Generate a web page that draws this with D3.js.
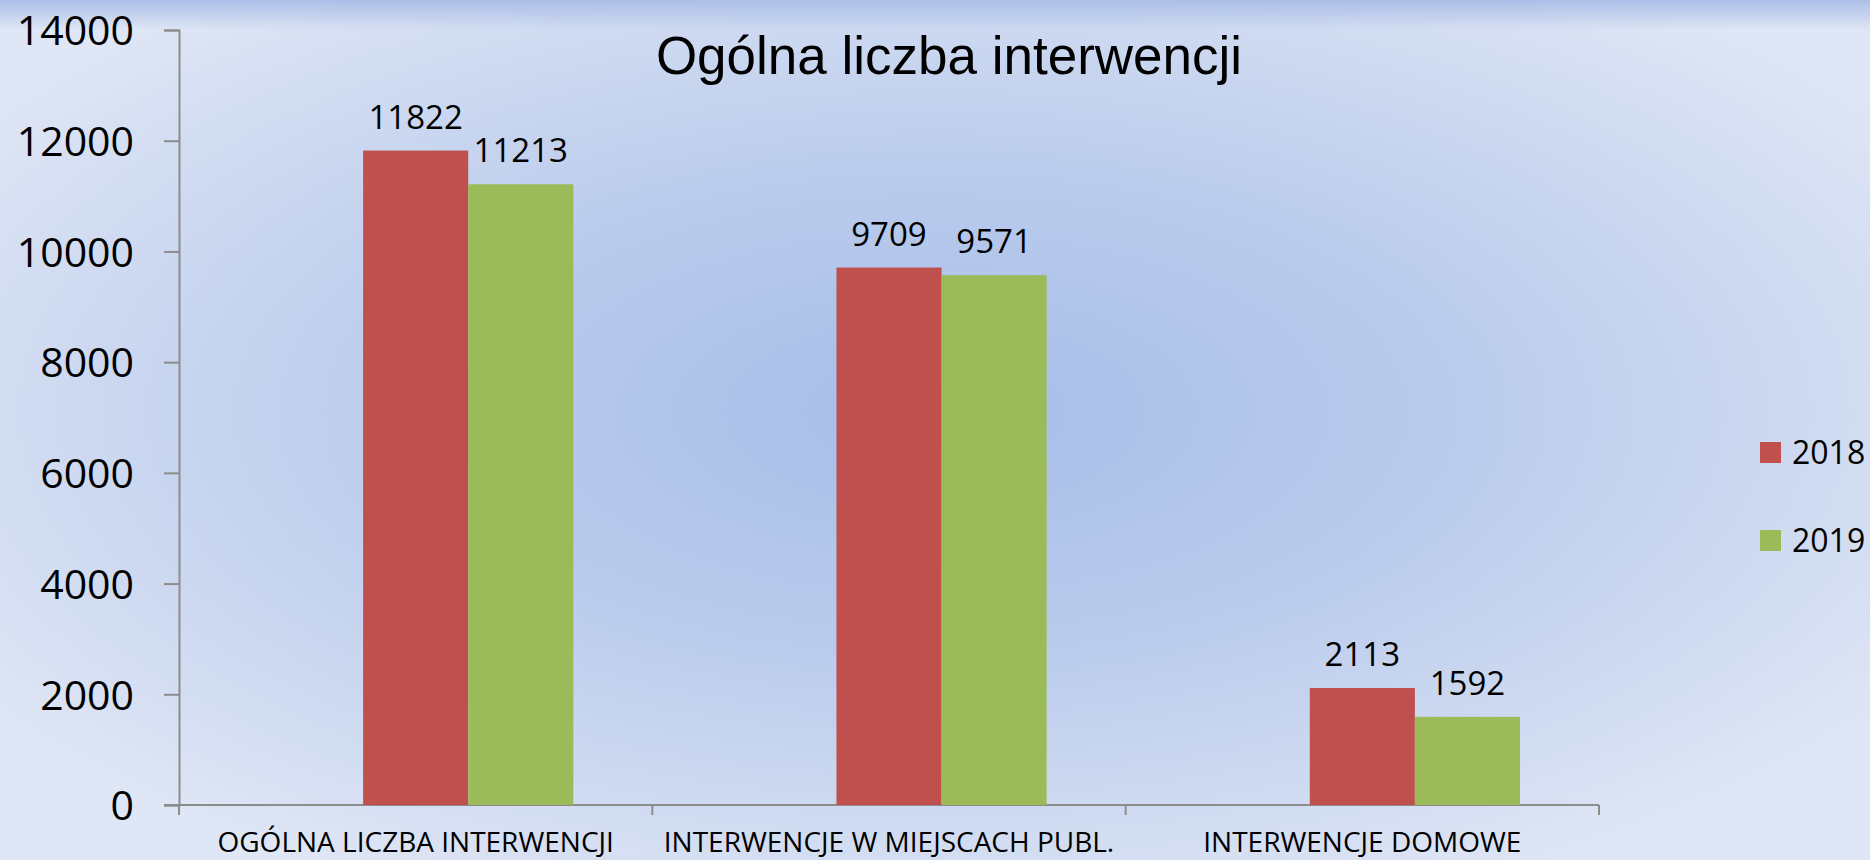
<!DOCTYPE html>
<html>
    <head>
        <meta charset="utf-8" />
        <script src="https://d3js.org/d3.v7.min.js"></script>
        <style>
            body { margin: 0; }
            svg { display: block; }
        </style>
    </head>
    <body>
        <svg class="chart" width="1870" height="860"></svg>
        <script>
            const categories = ['OGÓLNA LICZBA INTERWENCJI', 'INTERWENCJE W MIEJSCACH PUBL.', 'INTERWENCJE DOMOWE']
            const years = ['2018', '2019']
            const values2018 = [11822, 9709, 2113]
            const values2019 = [11213, 9571, 1592]
            const yTicks = [0, 2000, 4000, 6000, 8000, 10000, 12000, 14000]
            const colors = ['#c0504d', '#9bbb59']

            // Excel leaves one empty slot before the two series
            const slots = ['', ...years]
            const rows = categories.map((c, i) => ({ cat: c, vals: [values2018[i], values2019[i]] }))

            const svg = d3.select('svg.chart')
            const defs = svg.append('defs')

            const bg = defs.append('radialGradient')
                .attr('id', 'bg')
                .attr('cx', '50%').attr('cy', '48%').attr('r', '62%')
            bg.append('stop').attr('offset', '0%').attr('stop-color', '#a7bde8')
            bg.append('stop').attr('offset', '45%').attr('stop-color', '#bacbec')
            bg.append('stop').attr('offset', '100%').attr('stop-color', '#dfe6f5')

            const topBand = defs.append('linearGradient')
                .attr('id', 'topband').attr('x1', 0).attr('y1', 0).attr('x2', 0).attr('y2', 1)
            topBand.append('stop').attr('offset', '0%').attr('stop-color', '#a6bbe6').attr('stop-opacity', 0.9)
            topBand.append('stop').attr('offset', '100%').attr('stop-color', '#a6bbe6').attr('stop-opacity', 0)

            svg.append('rect').attr('width', 1870).attr('height', 860).attr('fill', 'url(#bg)')
            svg.append('rect').attr('width', 1870).attr('height', 30).attr('fill', 'url(#topband)')

            const x0 = d3.scaleBand().domain(categories).range([179, 1599])
            const x1 = d3.scaleBand().domain(slots).range([0, x0.bandwidth()])
                .paddingInner(0).paddingOuter(0.752)
            const y = d3.scaleLinear().domain([0, 14000]).range([805, 30])

            // y axis
            const yAxis = svg.append('g')
                .attr('transform', 'translate(179,0)')
                .call(d3.axisLeft(y).tickValues(yTicks).tickSize(15).tickPadding(30).tickFormat(d3.format('d')))
            yAxis.select('.domain').attr('stroke', '#8c8c8c').attr('stroke-width', 2)
            yAxis.selectAll('.tick line').attr('stroke', '#8c8c8c').attr('stroke-width', 2)
            yAxis.selectAll('.tick text')
                .style('font-family', '"Open Sans", sans-serif')
                .style('font-size', '41px')
                .attr('fill', '#000')
                .attr('dy', '0.36em')

            // x axis
            const xAxis = svg.append('g')
                .attr('transform', 'translate(0,805)')
                .call(d3.axisBottom(x0).tickSize(0).tickPadding(0))
            xAxis.select('.domain').remove()
            xAxis.append('line')
                .attr('x1', 164).attr('x2', 1599).attr('y1', 0).attr('y2', 0)
                .attr('stroke', '#8c8c8c').attr('stroke-width', 2)
            xAxis.selectAll('.sep')
                .data([...categories.map((c) => x0(c)), x0.range()[1]])
                .enter()
                .append('line')
                .attr('class', 'sep')
                .attr('x1', (d) => d).attr('x2', (d) => d)
                .attr('y1', 0).attr('y2', 10)
                .attr('stroke', '#8c8c8c').attr('stroke-width', 2)
            xAxis.selectAll('.tick text')
                .attr('y', 47)
                .attr('dy', 0)
                .style('font-family', '"Open Sans", sans-serif')
                .style('font-size', '28px')
                .attr('fill', '#000')

            // bars
            const groups = svg.selectAll('g.grp')
                .data(rows)
                .enter()
                .append('g')
                .attr('class', 'grp')
                .attr('transform', (d) => `translate(${x0(d.cat)},0)`)

            groups.selectAll('rect')
                .data((d) => d.vals.map((v, i) => ({ year: years[i], v: v, i: i })))
                .enter()
                .append('rect')
                .attr('x', (d) => x1(d.year))
                .attr('width', x1.bandwidth())
                .attr('y', (d) => y(d.v))
                .attr('height', (d) => y(0) - y(d.v))
                .attr('fill', (d) => colors[d.i])

            groups.selectAll('text.lbl')
                .data((d) => d.vals.map((v, i) => ({ year: years[i], v: v })))
                .enter()
                .append('text')
                .attr('class', 'lbl')
                .attr('x', (d) => x1(d.year) + x1.bandwidth() / 2)
                .attr('y', (d) => y(d.v) - 22)
                .attr('text-anchor', 'middle')
                .style('font-family', '"Open Sans", sans-serif')
                .style('font-size', '33px')
                .text((d) => d.v)

            // title
            svg.append('text')
                .attr('x', 949)
                .attr('y', 74)
                .attr('text-anchor', 'middle')
                .style('font-family', '"Liberation Sans", Arial, sans-serif')
                .style('font-size', '53px')
                .text('Ogólna liczba interwencji')

            // legend
            const legend = svg.selectAll('g.leg')
                .data(years)
                .enter()
                .append('g')
                .attr('class', 'leg')
                .attr('transform', (d, i) => `translate(1760,${442 + i * 88})`)
            legend.append('rect')
                .attr('width', 21).attr('height', 21)
                .attr('fill', (d, i) => colors[i])
            legend.append('text')
                .attr('x', 32).attr('y', 22)
                .style('font-family', '"Open Sans", sans-serif')
                .style('font-size', '32px')
                .text((d) => d)
        </script>
    </body>
</html>
